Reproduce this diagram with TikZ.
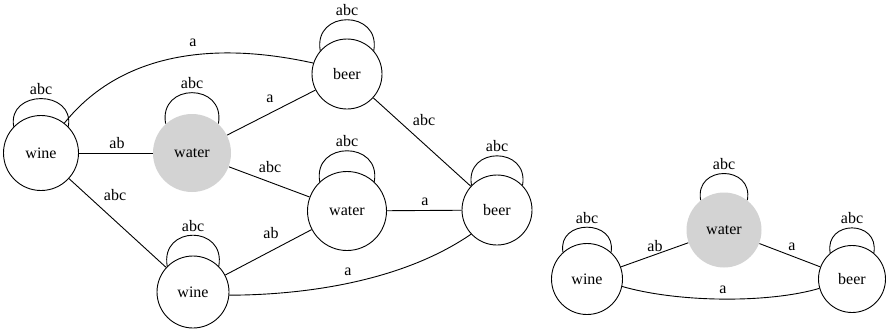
\documentclass[tikz,border=0pt]{standalone}
\usepackage{fontspec}
\setmainfont{Liberation Serif}
\definecolor{fillgray}{RGB}{211,211,211}
\begin{document}
\begin{tikzpicture}[x=1pt,y=-1pt,line width=0.9pt,
  every node/.style={font=\fontsize{16}{18}\selectfont},
  state/.style={circle,draw,inner sep=0pt},
  shaded/.style={circle,fill=fillgray,inner sep=0pt},
  lbl/.style={inner sep=0pt},
  looplbl/.style={above,inner sep=3.5pt}]
\useasboundingbox (0,0) rectangle (886,332);
% left graph nodes
\node[state,minimum size=75pt] (wineA) at (41,153) {wine};
\node[shaded,minimum size=78pt] (waterA) at (192,153) {water};
\node[state,minimum size=72pt] (wineB) at (193,292) {wine};
\node[state,minimum size=70pt] (beerA) at (347,74) {beer};
\node[state,minimum size=79pt] (waterB) at (347,211) {water};
\node[state,minimum size=70pt] (beerB) at (497,210) {beer};
% right graph nodes
\node[state,minimum size=71pt] (wineC) at (587,279) {wine};
\node[shaded,minimum size=75pt] (waterC) at (724,230) {water};
\node[state,minimum size=67pt] (beerC) at (852,279) {beer};
% loops
\draw (wineA.136) .. controls +(100:38pt) and +(80:38pt) .. (wineA.44) node[looplbl,midway] {abc};
\draw (waterA.132) .. controls +(100:42pt) and +(80:42pt) .. (waterA.48) node[looplbl,midway] {abc};
\draw (wineB.135) .. controls +(100:42pt) and +(80:42pt) .. (wineB.45) node[looplbl,midway] {abc};
\draw (beerA.139) .. controls +(100:42pt) and +(80:42pt) .. (beerA.41) node[looplbl,midway] {abc};
\draw (waterB.133) .. controls +(100:42pt) and +(80:42pt) .. (waterB.47) node[looplbl,midway] {abc};
\draw (beerB.136) .. controls +(100:40pt) and +(80:40pt) .. (beerB.44) node[looplbl,midway] {abc};
\draw (wineC.132) .. controls +(100:34pt) and +(80:34pt) .. (wineC.48) node[looplbl,midway] {abc};
\draw (waterC.128) .. controls +(100:36pt) and +(80:36pt) .. (waterC.52) node[looplbl,midway] {abc};
\draw (beerC.130) .. controls +(100:34pt) and +(80:34pt) .. (beerC.50) node[looplbl,midway] {abc};
% left edges
\draw (wineA) -- (waterA) node[lbl] at (117,143) {ab};
\draw (wineA.52) .. controls (115,60) and (200,38) .. (beerA.162) node[lbl] at (193,43) {a};
\draw (waterA) -- (beerA) node[lbl] at (270,99) {a};
\draw (wineA) -- (wineB) node[lbl] at (115,195) {abc};
\draw (waterA) -- (waterB) node[lbl] at (270,167) {abc};
\draw (wineB) -- (waterB) node[lbl] at (271,233) {ab};
\draw (wineB.355) .. controls (300,295) and (400,283) .. (beerB.223) node[lbl] at (348,272) {a};
\draw (beerA) -- (beerB) node[lbl] at (424,120) {abc};
\draw (waterB) -- (beerB) node[lbl] at (425,202) {a};
% right edges
\draw (wineC) -- (waterC) node[lbl] at (655,246) {ab};
\draw (waterC) -- (beerC) node[lbl] at (792,247) {a};
\draw (wineC.348) .. controls (680,303) and (770,303) .. (beerC.196) node[lbl] at (723,290) {a};
\end{tikzpicture}
\end{document}
